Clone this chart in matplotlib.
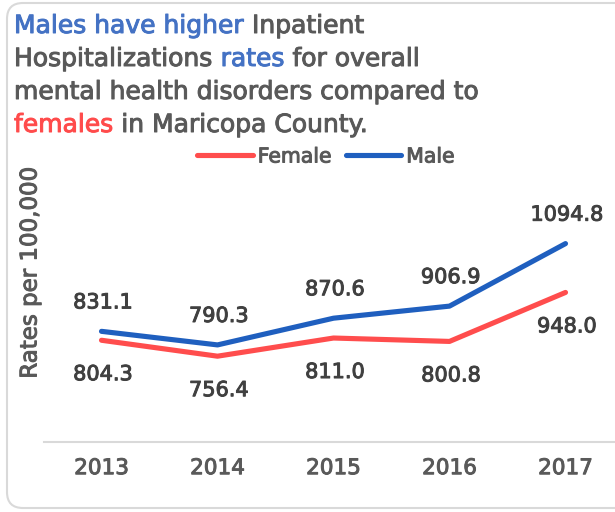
import matplotlib
matplotlib.use("Agg")
import matplotlib.pyplot as plt
import matplotlib.patheffects as pe
from matplotlib.patches import FancyBboxPatch
from matplotlib.transforms import IdentityTransform

# ─── Data ─────────────────────────────────────────────────────────────────────
years  = ["2013", "2014", "2015", "2016", "2017"]
female = [804.3, 756.4, 811.0, 800.8, 948.0]
male   = [831.1, 790.3, 870.6, 906.9, 1094.8]

BLUE_T = "#4472C4"
RED_T  = "#FF4B4B"
GRAY   = "#595959"
DARK   = "#404040"
C_FEM  = "#FF4D4D"
C_MALE = "#1F5FBF"

plt.rcParams["font.family"] = ["DejaVu Sans"]


def bold(col):
    # slight stroke to mimic the semi-bold Office font
    return [pe.withStroke(linewidth=0.7, foreground=col)]


W, H, DPI = 615, 512, 100
fig = plt.figure(figsize=(W / DPI, H / DPI), dpi=DPI)

# rounded chart border (pixel coords)
border = FancyBboxPatch((7 + 16, 4 + 16), 700, 505 - 32,
                        boxstyle="round,pad=16", transform=IdentityTransform(),
                        facecolor="white", edgecolor="#D9D9D9", linewidth=1.5,
                        zorder=-5)
fig.add_artist(border)

# ─── Axes ─────────────────────────────────────────────────────────────────────
ax_left, ax_right = 43.5, 43.5 + 5 * 116
ax_bot, ax_top = 441.5, 208.6
ax = fig.add_axes([ax_left / W, (H - ax_bot) / H,
                   (ax_right - ax_left) / W, (ax_bot - ax_top) / H])
ax.patch.set_alpha(0)
x = list(range(len(years)))
ax.plot(x, female, color=C_FEM, lw=3.7, solid_capstyle="round",
        solid_joinstyle="round", label="Female")
ax.plot(x, male, color=C_MALE, lw=3.7, solid_capstyle="round",
        solid_joinstyle="round", label="Male")
ax.set_xlim(-0.5, 4.5)
ax.set_ylim(500, 1200)

for s in ["top", "right", "left"]:
    ax.spines[s].set_visible(False)
ax.spines["bottom"].set_color("#D9D9D9")
ax.spines["bottom"].set_linewidth(1.5)
ax.set_yticks([])
ax.set_xticks(x)
ax.set_xticklabels(years, fontsize=15.5, color=GRAY)
for t in ax.get_xticklabels():
    t.set_path_effects(bold(GRAY))
ax.tick_params(axis="x", length=0, pad=12)

for i in x:
    ax.annotate(f"{male[i]:.1f}", (i, male[i]), xytext=(1, 16.5),
                textcoords="offset points", ha="center", va="baseline",
                fontsize=15, color=DARK, path_effects=bold(DARK))
    ax.annotate(f"{female[i]:.1f}", (i, female[i]), xytext=(1, -28.8),
                textcoords="offset points", ha="center", va="baseline",
                fontsize=15, color=DARK, path_effects=bold(DARK))

fig.text(30 / W, 1 - 273 / H, "Rates per 100,000", rotation=90,
         ha="center", va="center", fontsize=16.5, color=GRAY,
         path_effects=bold(GRAY))

leg = fig.legend(loc="center", bbox_to_anchor=(326 / W, 1 - 157 / H), ncol=2,
                 frameon=False, fontsize=14.7, handlelength=2.7,
                 handletextpad=0.25, columnspacing=0.7, labelcolor=GRAY)
for t in leg.get_texts():
    t.set_path_effects(bold(GRAY))

# ─── Multi-coloured title ─────────────────────────────────────────────────────
title_lines = [
    [("Males have higher ", BLUE_T), ("Inpatient", GRAY)],
    [("Hospitalizations ", GRAY), ("rates", BLUE_T), (" for overall", GRAY)],
    [("mental health disorders compared to", GRAY)],
    [("females", RED_T), (" in Maricopa County.", GRAY)],
]
baselines = [33, 66, 99, 132]
TFS = 18
renderer = fig.canvas.get_renderer()


def text_w(s):
    t = fig.text(0, 0, s + "|", fontsize=TFS)
    m = fig.text(0, 0, "|", fontsize=TFS)
    w = t.get_window_extent(renderer).width - m.get_window_extent(renderer).width
    t.remove()
    m.remove()
    return w


for line, yb in zip(title_lines, baselines):
    prefix = ""
    for piece, col in line:
        x0 = 14 + (text_w(prefix) if prefix else 0)
        fig.text(x0 / W, 1 - yb / H, piece, fontsize=TFS, color=col,
                 ha="left", va="baseline", path_effects=bold(col))
        prefix += piece

fig.savefig("out.png", dpi=DPI)
